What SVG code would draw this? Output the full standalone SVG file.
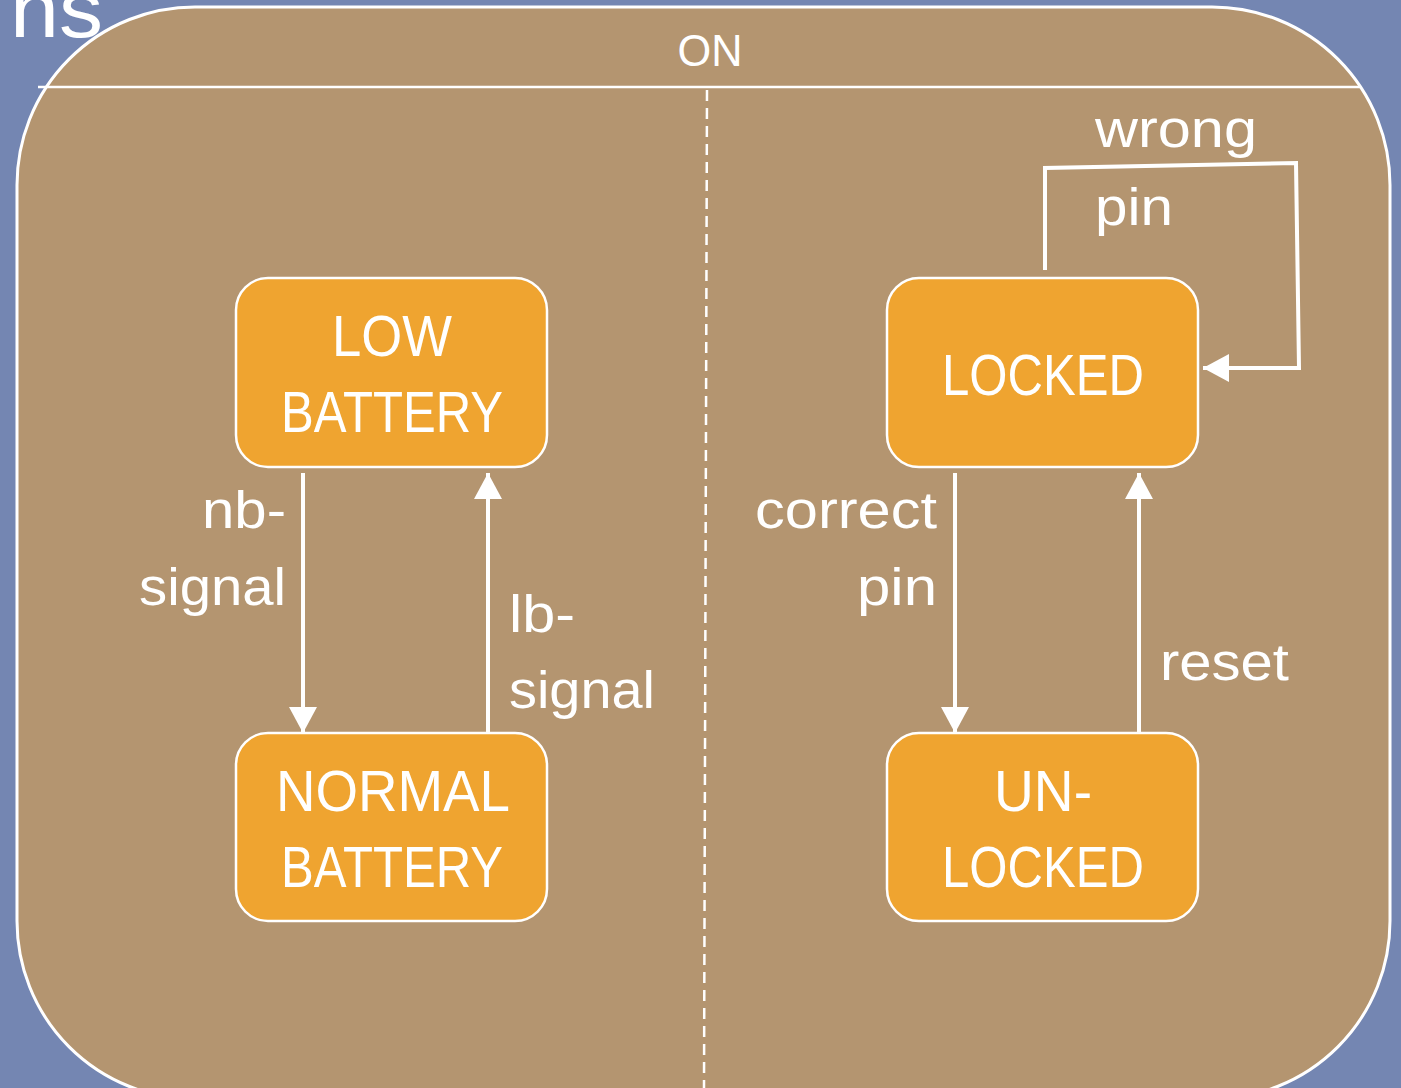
<svg xmlns="http://www.w3.org/2000/svg" width="1401" height="1088" viewBox="0 0 1401 1088">
<style>
.node{fill:#EFA430;stroke:#FFFFFF;stroke-width:2.5}
.ntext{font-family:"Liberation Sans",Arial,sans-serif;font-size:57px;fill:#FFFFFF}
.lbl{font-family:"Liberation Sans",Arial,sans-serif;font-size:51px;fill:#FFFFFF}
.conn{fill:none;stroke:#FFFFFF;stroke-width:4}
</style>
<defs>
<marker id="ah" markerUnits="userSpaceOnUse" markerWidth="26" markerHeight="28" refX="26" refY="14" orient="auto">
<path d="M0,0 L26,14 L0,28 Z" fill="#FFFFFF"/>
</marker>
</defs>
<rect width="1401" height="1088" fill="#7486B2"/>
<text x="103" y="37" text-anchor="end" font-family="Liberation Sans,Arial,sans-serif" font-size="80" fill="#FFFFFF" textLength="93" lengthAdjust="spacingAndGlyphs">ns</text>
<text x="1373" y="1106" text-anchor="middle" font-family="Liberation Sans,Arial,sans-serif" font-size="26" fill="#FFFFFF">17</text>
<g id="state-on">
<rect x="17" y="7" width="1373" height="1092" rx="178" ry="178" fill="#B49570" stroke="#FFFFFF" stroke-width="3"/>
<line x1="38" y1="87" x2="1360" y2="87" stroke="#FFFFFF" stroke-width="2.5"/>
<line x1="707" y1="90" x2="704" y2="1088" stroke="#FFFFFF" stroke-width="2.5" stroke-dasharray="11 7"/>
<text x="710" y="66" text-anchor="middle" font-family="Liberation Sans,Arial,sans-serif" font-size="45" fill="#FFFFFF" textLength="65" lengthAdjust="spacingAndGlyphs">ON</text>
</g>
<g id="node-low-battery">
<rect class="node" x="236" y="278" width="311" height="189" rx="32"/>
<text class="ntext" x="392" y="356" text-anchor="middle" textLength="120" lengthAdjust="spacingAndGlyphs">LOW</text>
<text class="ntext" x="392" y="432" text-anchor="middle" textLength="222" lengthAdjust="spacingAndGlyphs">BATTERY</text>
</g>
<g id="node-normal-battery">
<rect class="node" x="236" y="733" width="311" height="188" rx="32"/>
<text class="ntext" x="393" y="811" text-anchor="middle" textLength="234" lengthAdjust="spacingAndGlyphs">NORMAL</text>
<text class="ntext" x="392" y="887" text-anchor="middle" textLength="222" lengthAdjust="spacingAndGlyphs">BATTERY</text>
</g>
<g id="node-locked">
<rect class="node" x="887" y="278" width="311" height="189" rx="32"/>
<text class="ntext" x="1043" y="395" text-anchor="middle" textLength="202" lengthAdjust="spacingAndGlyphs">LOCKED</text>
</g>
<g id="node-unlocked">
<rect class="node" x="887" y="733" width="311" height="188" rx="32"/>
<text class="ntext" x="1043" y="811" text-anchor="middle" textLength="98" lengthAdjust="spacingAndGlyphs">UN-</text>
<text class="ntext" x="1043" y="887" text-anchor="middle" textLength="202" lengthAdjust="spacingAndGlyphs">LOCKED</text>
</g>
<g id="connectors">
<line class="conn" x1="303" y1="473" x2="303" y2="733" marker-end="url(#ah)"/>
<line class="conn" x1="488" y1="733" x2="488" y2="473" marker-end="url(#ah)"/>
<line class="conn" x1="955" y1="473" x2="955" y2="733" marker-end="url(#ah)"/>
<line class="conn" x1="1139" y1="733" x2="1139" y2="473" marker-end="url(#ah)"/>
<polyline class="conn" points="1045,270 1045,168 1296,163 1299,368 1203,368" marker-end="url(#ah)"/>
<text class="lbl" x="286" y="528" text-anchor="end" textLength="84" lengthAdjust="spacingAndGlyphs">nb-</text>
<text class="lbl" x="286" y="605" text-anchor="end" textLength="147" lengthAdjust="spacingAndGlyphs">signal</text>
<text class="lbl" x="509" y="632" textLength="66" lengthAdjust="spacingAndGlyphs">lb-</text>
<text class="lbl" x="509" y="708" textLength="146" lengthAdjust="spacingAndGlyphs">signal</text>
<text class="lbl" x="937" y="528" text-anchor="end" textLength="182" lengthAdjust="spacingAndGlyphs">correct</text>
<text class="lbl" x="937" y="605" text-anchor="end" textLength="80" lengthAdjust="spacingAndGlyphs">pin</text>
<text class="lbl" x="1160" y="680" textLength="129" lengthAdjust="spacingAndGlyphs">reset</text>
<text class="lbl" x="1095" y="147" textLength="162" lengthAdjust="spacingAndGlyphs">wrong</text>
<text class="lbl" x="1095" y="225" textLength="78" lengthAdjust="spacingAndGlyphs">pin</text>
</g>
</svg>
